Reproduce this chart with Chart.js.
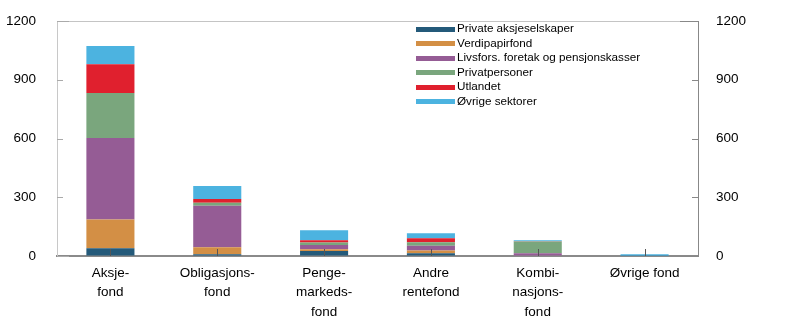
<!DOCTYPE html>
<html>
<head>
<meta charset="utf-8">
<script src="https://cdn.jsdelivr.net/npm/chart.js@4/dist/chart.umd.min.js"></script>
<style>
  body { margin: 0; background: #fff; }
  canvas { display: block; }
</style>
</head>
<body>
<canvas id="chart" width="797" height="330"></canvas>
<script>
// Fondskategorier og eiersektorer (mrd. kroner)
const categories = [
    ['Aksje-', 'fond'],
    ['Obligasjons-', 'fond'],
    ['Penge-', 'markeds-', 'fond'],
    ['Andre', 'rentefond'],
    ['Kombi-', 'nasjons-', 'fond'],
    'Øvrige fond'
];
const privateAs = [39, 9, 26, 14, 2, 1];
const verdipapirfond = [148, 36, 9, 14, 1, 0];
const livsfors = [416, 211, 21, 24, 11, 0];
const privatpersoner = [229, 16, 13, 18, 60, 0];
const utlandet = [147, 19, 12, 21, 1, 0];
const ovrige = [93, 66, 51, 25, 5, 8];
const yTicks = [0, 300, 600, 900, 1200];

const FONT = '"Liberation Sans", Arial, sans-serif';

const series = [
    { label: 'Private aksjeselskaper', data: privateAs, color: '#245a7a' },
    { label: 'Verdipapirfond', data: verdipapirfond, color: '#d38f45' },
    { label: 'Livsfors. foretak og pensjonskasser', data: livsfors, color: '#955c95' },
    { label: 'Privatpersoner', data: privatpersoner, color: '#7aa67d' },
    { label: 'Utlandet', data: utlandet, color: '#e0202e' },
    { label: 'Øvrige sektorer', data: ovrige, color: '#4cb3e0' }
];

// small ticks pointing into the plot area, plus the legend box
const innerTicks = {
    id: 'innerTicks',
    afterDatasetsDraw(chart) {
        const ctx = chart.ctx;
        const area = chart.chartArea;
        const x = chart.scales.x, y = chart.scales.y, y2 = chart.scales.y2;
        ctx.save();
        ctx.lineWidth = 1;
        ctx.strokeStyle = '#555';
        x.ticks.forEach((t, i) => {
            const px = Math.round(x.getPixelForTick(i)) + 0.5;
            ctx.beginPath();
            ctx.moveTo(px, area.bottom);
            ctx.lineTo(px, area.bottom - 7);
            ctx.stroke();
        });
        ctx.strokeStyle = '#aaa';
        y.ticks.forEach(t => {
            const py = Math.round(y.getPixelForValue(t.value)) + 0.5;
            const len = (t.value === 0 || t.value === 1200) ? 12 : 6;
            ctx.beginPath();
            ctx.moveTo(area.left, py);
            ctx.lineTo(area.left + len, py);
            ctx.stroke();
        });
        ctx.strokeStyle = '#888';
        y2.ticks.forEach(t => {
            const py = Math.round(y2.getPixelForValue(t.value)) + 0.5;
            const len = (t.value === 0 || t.value === 1200) ? 18 : 6;
            ctx.beginPath();
            ctx.moveTo(area.right, py);
            ctx.lineTo(area.right - len, py);
            ctx.stroke();
        });

        // legend
        ctx.font = '11.7px ' + FONT;
        ctx.textBaseline = 'middle';
        chart.data.datasets.forEach((ds, i) => {
            const cy = area.top + 8 + i * 14.5;
            ctx.fillStyle = ds.backgroundColor;
            ctx.fillRect(416, Math.round(cy - 2.5), 39, 5);
            ctx.fillStyle = '#000';
            ctx.fillText(ds.label, 457, cy);
        });
        ctx.restore();
    }
};

const plainNumber = v => String(v);

// keep the plot area edges fixed instead of growing for the tick labels
function fixWidth(w) {
    return scale => {
        scale.width = w;
        scale.paddingTop = 0;
        scale.paddingBottom = 0;
    };
}

new Chart(document.getElementById('chart'), {
    type: 'bar',
    data: {
        labels: categories,
        datasets: series.map(s => ({
            label: s.label,
            data: s.data,
            backgroundColor: s.color,
            borderWidth: 0,
            categoryPercentage: 1,
            barPercentage: 0.45
        }))
    },
    options: {
        responsive: false,
        animation: false,
        devicePixelRatio: 1,
        layout: { padding: { top: 21, left: 0, right: 0, bottom: 0 } },
        plugins: {
            legend: { display: false },
            tooltip: { enabled: false }
        },
        scales: {
            x: {
                stacked: true,
                grid: { display: false, drawTicks: false },
                border: { color: '#8a8a8a', width: 2 },
                ticks: {
                    color: '#000',
                    font: { family: FONT, size: 13.5, lineHeight: 1.45 },
                    padding: 7,
                    maxRotation: 0,
                    autoSkip: false
                },
                afterFit(scale) {
                    scale.height = 74;
                    scale.paddingLeft = 0;
                    scale.paddingRight = 0;
                }
            },
            y: {
                stacked: true,
                position: 'left',
                min: 0,
                max: 1200,
                afterBuildTicks(scale) { scale.ticks = yTicks.map(v => ({ value: v })); },
                grid: {
                    drawTicks: false,
                    color: c => (c.tick && c.tick.value === 1200) ? '#c4c4c4' : 'rgba(0,0,0,0)'
                },
                border: { color: '#c8c8c8', width: 1 },
                ticks: {
                    color: '#000',
                    font: { family: FONT, size: 13.5 },
                    padding: 21,
                    callback: plainNumber
                },
                afterFit: fixWidth(57)
            },
            y2: {
                position: 'right',
                min: 0,
                max: 1200,
                afterBuildTicks(scale) { scale.ticks = yTicks.map(v => ({ value: v })); },
                grid: { drawOnChartArea: false, drawTicks: false },
                border: { color: '#888', width: 1 },
                ticks: {
                    color: '#000',
                    font: { family: FONT, size: 13.5 },
                    padding: 18,
                    callback: plainNumber
                },
                afterFit: fixWidth(99)
            }
        }
    },
    plugins: [innerTicks]
});
</script>
</body>
</html>
